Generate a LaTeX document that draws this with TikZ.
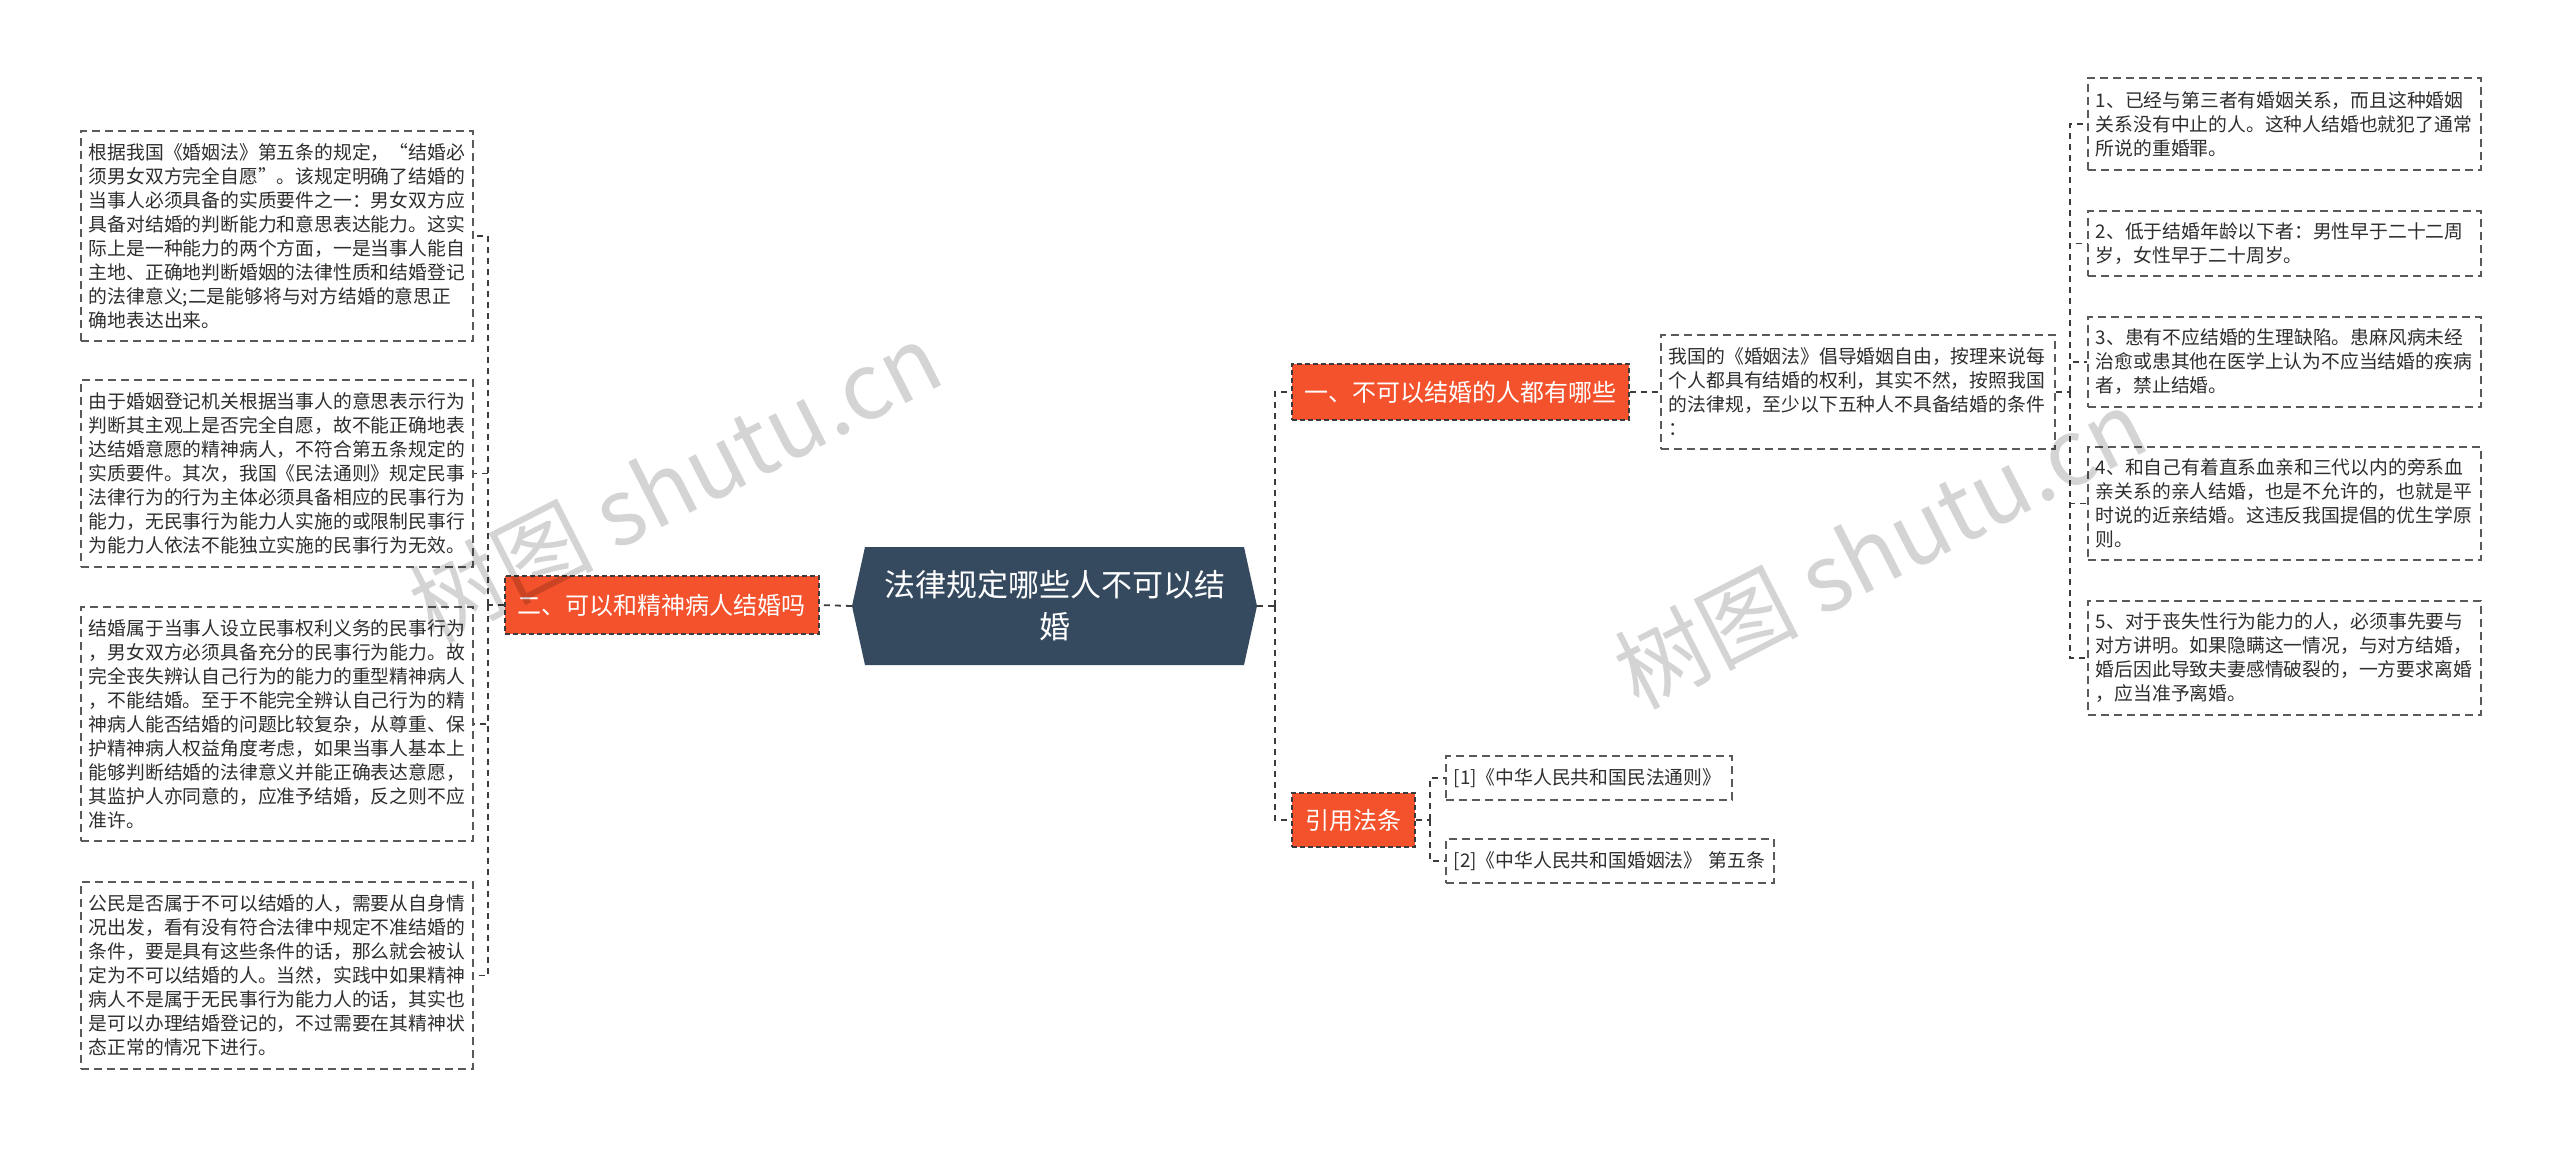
\documentclass[tikz,border=0pt]{standalone}
\usepackage{fontspec}
\setmainfont{Noto Sans CJK SC}
\definecolor{topicred}{HTML}{F3522C}
\definecolor{rootblue}{HTML}{354A5F}
\definecolor{linkgray}{HTML}{3C3C3C}
\definecolor{boxgray}{HTML}{5A5A5A}
\tikzset{
  link/.style={draw=linkgray, line width=1.8pt, dash pattern=on 6pt off 5pt},
  roottext/.style={text=white, align=center, font=\fontsize{31}{42}\selectfont,
    minimum width=405pt, minimum height=118pt, inner sep=0pt},
  topic/.style={fill=topicred, draw=linkgray, line width=1.5pt, dash pattern=on 5pt off 3pt,
    text=white, font=\fontsize{24}{30}\selectfont, inner sep=0pt, anchor=west},
  detail/.style={draw=boxgray, fill=white, line width=1.6pt, dash pattern=on 8pt off 5pt,
    align=left, anchor=west, inner xsep=8pt, inner ysep=0pt,
    font=\fontsize{18.8}{24}\selectfont, text=black!82},
  watermark/.style={text=black, opacity=0.17, font=\fontsize{92}{100}\selectfont, rotate=27},
}
\begin{document}
\begin{tikzpicture}[x=1pt, y=-1pt]
        % Canvas
        \useasboundingbox (0,0) rectangle (2560,1149);
        \fill[white] (0,0) rectangle (2560,1149);

        % Central topic
        \fill[rootblue] (852,606) -- (865,547) -- (1244,547) -- (1257,606) -- (1244,665) -- (865,665) -- cycle;
        \node[roottext] (root) at (1054.5,606) {法律规定哪些人不可以结\\婚};

        % Main topics
        \node[topic, minimum width=314pt, minimum height=58pt] (marry) at (504,605) {二、可以和精神病人结婚吗};
        \node[topic, minimum width=337pt, minimum height=56pt] (who) at (1291,392) {一、不可以结婚的人都有哪些};
        \node[topic, minimum width=123pt, minimum height=54pt] (law) at (1291,820) {引用法条};

        % Left details
        \node[detail, text width=376pt, minimum height=210pt] (l1) at (80,236) {根据我国《婚姻法》第五条的规定，“结婚必\\须男女双方完全自愿”。该规定明确了结婚的\\当事人必须具备的实质要件之一：男女双方应\\具备对结婚的判断能力和意思表达能力。这实\\际上是一种能力的两个方面，一是当事人能自\\主地、正确地判断婚姻的法律性质和结婚登记\\的法律意义;二是能够将与对方结婚的意思正\\确地表达出来。};
        \node[detail, text width=376pt, minimum height=187pt] (l2) at (80,473.5) {由于婚姻登记机关根据当事人的意思表示行为\\判断其主观上是否完全自愿，故不能正确地表\\达结婚意愿的精神病人，不符合第五条规定的\\实质要件。其次，我国《民法通则》规定民事\\法律行为的行为主体必须具备相应的民事行为\\能力，无民事行为能力人实施的或限制民事行\\为能力人依法不能独立实施的民事行为无效。};
        \node[detail, text width=376pt, minimum height=234pt] (l3) at (80,724) {结婚属于当事人设立民事权利义务的民事行为\\，男女双方必须具备充分的民事行为能力。故\\完全丧失辨认自己行为的能力的重型精神病人\\，不能结婚。至于不能完全辨认自己行为的精\\神病人能否结婚的问题比较复杂，从尊重、保\\护精神病人权益角度考虑，如果当事人基本上\\能够判断结婚的法律意义并能正确表达意愿，\\其监护人亦同意的，应准予结婚，反之则不应\\准许。};
        \node[detail, text width=376pt, minimum height=187pt] (l4) at (80,975.5) {公民是否属于不可以结婚的人，需要从自身情\\况出发，看有没有符合法律中规定不准结婚的\\条件，要是具有这些条件的话，那么就会被认\\定为不可以结婚的人。当然，实践中如果精神\\病人不是属于无民事行为能力人的话，其实也\\是可以办理结婚登记的，不过需要在其精神状\\态正常的情况下进行。};

        % Intro under topic one
        \node[detail, text width=378pt, minimum height=114pt] (intro) at (1660,392) {我国的《婚姻法》倡导婚姻自由，按理来说每\\个人都具有结婚的权利，其实不然，按照我国\\的法律规，至少以下五种人不具备结婚的条件\\：};

        % Five kinds of people
        \node[detail, text width=377pt, minimum height=92pt] (r1) at (2087,124) {1、已经与第三者有婚姻关系，而且这种婚姻\\关系没有中止的人。这种人结婚也就犯了通常\\所说的重婚罪。};
        \node[detail, text width=377pt, minimum height=65pt] (r2) at (2087,243.5) {2、低于结婚年龄以下者：男性早于二十二周\\岁，女性早于二十周岁。};
        \node[detail, text width=377pt, minimum height=90pt] (r3) at (2087,362) {3、患有不应结婚的生理缺陷。患麻风病未经\\治愈或患其他在医学上认为不应当结婚的疾病\\者，禁止结婚。};
        \node[detail, text width=377pt, minimum height=113pt] (r4) at (2087,503.5) {4、和自己有着直系血亲和三代以内的旁系血\\亲关系的亲人结婚，也是不允许的，也就是平\\时说的近亲结婚。这违反我国提倡的优生学原\\则。};
        \node[detail, text width=377pt, minimum height=114pt] (r5) at (2087,658) {5、对于丧失性行为能力的人，必须事先要与\\对方讲明。如果隐瞒这一情况，与对方结婚，\\婚后因此导致夫妻感情破裂的，一方要求离婚\\，应当准予离婚。};

        % Cited laws
        \node[detail, text width=270pt, minimum height=44pt] (c1) at (1445,778) {[1]《中华人民共和国民法通则》};
        \node[detail, text width=312pt, minimum height=44pt] (c2) at (1445,861) {[2]《中华人民共和国婚姻法》 第五条};

        % Junctions
        \coordinate (jl) at (488,605);
        \coordinate (jr) at (1275,606);
        \coordinate (ji) at (2070,392);
        \coordinate (jc) at (1430,820);

        % Connectors
        \draw[link] (root.west) -- (marry.east);
        \draw[link] (marry.west) -- (jl);
        \foreach \n in {l1,l2,l3,l4} \draw[link] (jl) |- (\n.east);
        \draw[link] (root.east) -- (jr);
        \foreach \n in {who,law} \draw[link] (jr) |- (\n.west);
        \draw[link] (who.east) -- (intro.west);
        \draw[link] (intro.east) -- (ji);
        \foreach \n in {r1,r2,r3,r4,r5} \draw[link] (ji) |- (\n.west);
        \draw[link] (law.east) -- (jc);
        \foreach \n in {c1,c2} \draw[link] (jc) |- (\n.west);

        % Watermarks
        \node[watermark] (wm1) at (675,482) {树图 shutu.cn};
        \node[watermark] (wm2) at (1880,548) {树图 shutu.cn};
\end{tikzpicture}
\end{document}
